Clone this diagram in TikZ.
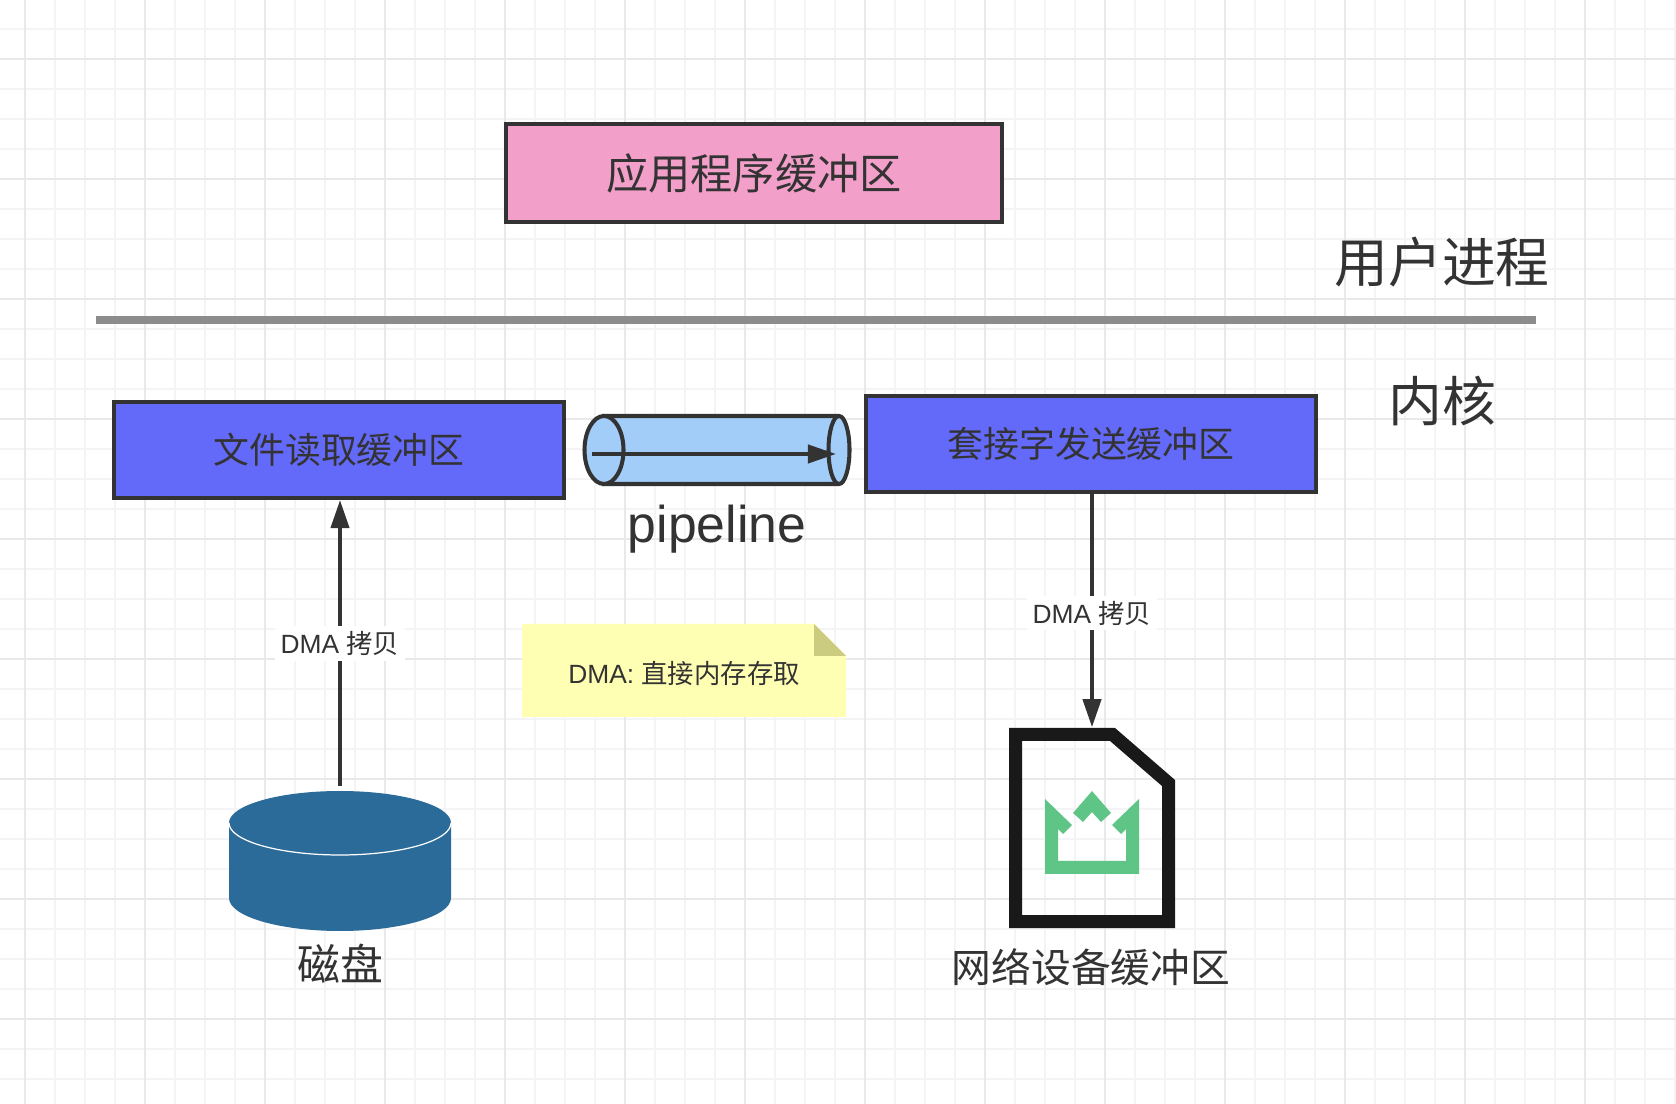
\documentclass[tikz,border=0pt]{standalone}
\usepackage{fontspec}
\setmainfont{Liberation Sans}
\newfontfamily\cjk{Noto Sans CJK SC}
\usepackage{xcolor}
\usetikzlibrary{arrows.meta, calc}
\definecolor{cInk}{RGB}{51,51,51}
\definecolor{cPink}{RGB}{242,159,201}
\definecolor{cBlue}{RGB}{99,105,248}
\definecolor{cPipe}{RGB}{163,205,249}
\definecolor{cNote}{RGB}{255,255,179}
\definecolor{cFold}{RGB}{204,204,128}
\definecolor{cDisk}{RGB}{43,107,153}
\definecolor{cCrown}{RGB}{94,197,135}
\definecolor{cRule}{RGB}{140,140,140}
\definecolor{cGridA}{RGB}{244,244,246}
\definecolor{cGridB}{RGB}{233,233,236}
\tikzset{
	bufbox/.style   ={rectangle, draw=cInk, line width=1.15pt, align=center, text=cInk},
	sidetext/.style ={text=cInk, inner sep=0pt, font=\cjk\fontsize{15.3pt}{18pt}\selectfont},
	caption/.style  ={text=cInk, inner sep=0pt},
	sig/.style      ={-{Triangle[length=2.8mm, width=1.8mm]}, line width=1.15pt, draw=cInk},
	siglabel/.style ={fill=white, text=cInk, inner sep=1.5pt, font=\fontsize{7.5pt}{9pt}\selectfont},
}
\begin{document}
\begin{tikzpicture}[x=0.01cm, y=-0.01cm]
	\fill[white] (0,0) rectangle (1676,1104);
	\useasboundingbox (0,0) rectangle (1676,1104);
	% background grid
	\foreach \gx in {-5,25,...,1675} \draw[cGridA, line width=0.6pt] (\gx,0) -- (\gx,1104);
	\foreach \gy in {29,59,...,1104} \draw[cGridA, line width=0.6pt] (0,\gy) -- (1676,\gy);
	\foreach \gx in {25,145,...,1675} \draw[cGridB, line width=0.6pt] (\gx,0) -- (\gx,1104);
	\foreach \gy in {59,179,...,1104} \draw[cGridB, line width=0.6pt] (0,\gy) -- (1676,\gy);
	% user space / kernel
	\node[bufbox, fill=cPink, minimum width=4.96cm, minimum height=0.98cm, font=\cjk\fontsize{12pt}{14pt}\selectfont] (appbuf) at (754,173) {应用程序缓冲区};
	\node[sidetext] (userlbl) at (1442,262) {用户进程};
	\draw[cRule, line width=2pt] (96,320) -- (1536,320);
	\node[sidetext] (kernlbl) at (1442,401) {内核};
	\node[bufbox, fill=cBlue, minimum width=4.49cm, minimum height=0.96cm, font=\cjk\fontsize{10.2pt}{12pt}\selectfont] (readbuf) at (339,450) {文件读取缓冲区};
	\node[bufbox, fill=cBlue, minimum width=4.50cm, minimum height=0.96cm, font=\cjk\fontsize{10.2pt}{12pt}\selectfont] (sendbuf) at (1091,444) {套接字发送缓冲区};
	% pipe
	\filldraw[fill=cPipe, draw=cInk, line width=1.15pt] (604,416) -- (839,416) arc (-90:90:10.5 and 34) -- (604,484) -- cycle;
	\draw[draw=cInk, line width=1.15pt] (839,416) arc (-90:-270:10.5 and 34);
	\filldraw[fill=cPipe, draw=cInk, line width=1.15pt] (604,450) ellipse (19.5 and 34);
	\coordinate (pipeL) at (592,454);
	\coordinate (pipeR) at (836,454);
	\draw[sig] (pipeL) -- (pipeR);
	\node[caption, font=\fontsize{14.7pt}{18pt}\selectfont] (pipelbl) at (717,529) {pipeline};
	% note
	\fill[cNote] (522,624) -- (814,624) -- (846,656) -- (846,717) -- (522,717) -- cycle;
	\fill[cFold] (814,624) -- (846,656) -- (814,656) -- cycle;
	\node[caption, font=\fontsize{7.5pt}{9pt}\selectfont] (notelbl) at (684,673) {DMA: {\cjk 直接内存存取}};
	% disk
	\fill[cDisk] (229,823) arc (180:0:111 and 32) -- (451,898) arc (0:180:111 and 33) -- cycle;
	\fill[cDisk] (340,823) ellipse (111 and 32);
	\draw[white, line width=0.35pt] (229,823) arc (180:0:111 and 32);
	\node[minimum width=2.22cm, minimum height=1.44cm, inner sep=0pt] (disk) at (340,859) {};
	\node[caption, font=\cjk\fontsize{12.2pt}{15pt}\selectfont] (disklbl) at (340,964) {磁盘};
	% network device icon
	\fill[even odd rule, black!90] (1009,728) -- (1115,728) -- (1175,780) -- (1175,928) -- (1009,928) -- cycle
		(1022,741) -- (1110,741) -- (1162,786) -- (1162,915) -- (1022,915) -- cycle;
	\fill[cCrown] (1045,799) -- (1072,825) -- (1063,834) -- (1058,829) -- (1058,861) -- (1126,861) -- (1126,829) -- (1121,834) -- (1112,825) -- (1139,799) -- (1139,874) -- (1045,874) -- cycle;
	\fill[cCrown] (1092,791) -- (1111,813) -- (1101,822) -- (1092,812) -- (1083,822) -- (1073,813) -- cycle;
	\node[minimum width=1.66cm, minimum height=2cm, inner sep=0pt] (netdev) at (1092,828) {};
	\node[caption, font=\cjk\fontsize{11.3pt}{14pt}\selectfont] (netlbl) at (1091,967) {网络设备缓冲区};
	% DMA copies
	\draw[sig] (disk.north) -- node[siglabel] (copyL) {DMA {\cjk 拷贝}} (readbuf.south -| disk.north);
	\draw[sig] (sendbuf.south -| netdev.north) -- node[siglabel, pos=0.51] (copyR) {DMA {\cjk 拷贝}} (netdev.north);
\end{tikzpicture}
\end{document}
